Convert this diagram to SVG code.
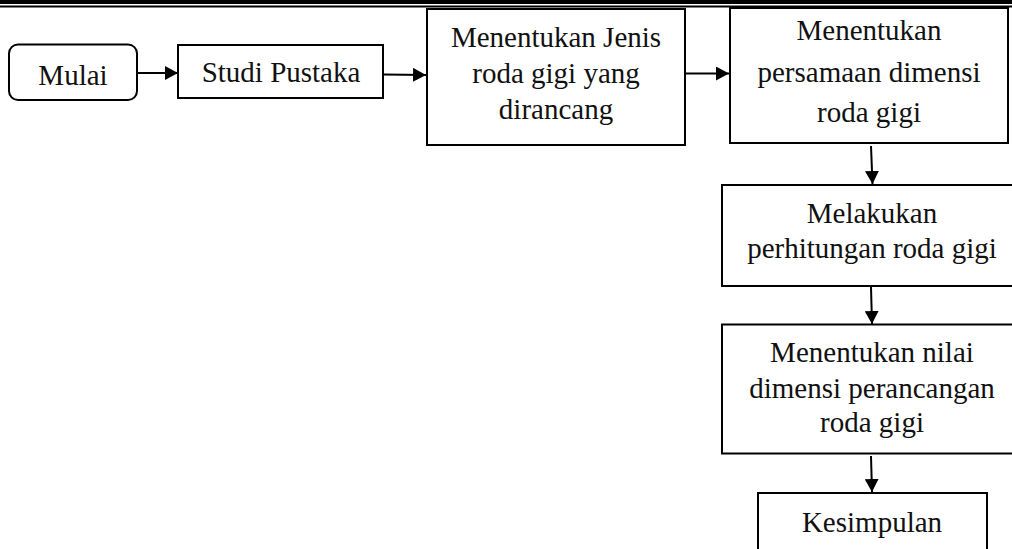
<svg xmlns="http://www.w3.org/2000/svg" width="1012" height="549" viewBox="0 0 1012 549">
<defs>
<style>
.box{fill:#fff;stroke:#000;stroke-width:2}
.t{font-family:"Liberation Serif","Times New Roman",serif;font-size:29px;fill:#111;text-anchor:middle}
.c{stroke:#000;stroke-width:2;fill:none}
</style>
<marker id="ah" markerWidth="13" markerHeight="14" refX="13" refY="7" orient="auto" markerUnits="userSpaceOnUse">
<path d="M0,0 L13,7 L0,14 Z" fill="#000"/>
</marker>
</defs>
<rect x="0" y="0" width="1012" height="549" fill="#fff"/>
<g id="header">
<rect x="0" y="0" width="1012" height="4" fill="#000"/>
<rect x="0" y="5.5" width="1012" height="2" fill="#000"/>
</g>
<g id="n1">
<rect class="box" x="9" y="44.5" width="128" height="55.5" rx="9"/>
<text class="t" x="73" y="85">Mulai</text>
</g>
<g id="n2">
<rect class="box" x="178" y="45" width="205" height="53"/>
<text class="t" x="281" y="82">Studi Pustaka</text>
</g>
<g id="n3">
<rect class="box" x="427" y="9" width="258" height="136"/>
<text class="t" x="556" y="46.5">Menentukan Jenis</text>
<text class="t" x="556" y="82.5">roda gigi yang</text>
<text class="t" x="556" y="118.5">dirancang</text>
</g>
<g id="n4">
<rect class="box" x="730" y="8" width="278" height="135"/>
<text class="t" x="869" y="40">Menentukan</text>
<text class="t" x="869" y="82">persamaan dimensi</text>
<text class="t" x="869" y="122">roda gigi</text>
</g>
<g id="n5">
<rect class="box" x="722" y="185" width="310" height="101"/>
<text class="t" x="872" y="223">Melakukan</text>
<text class="t" x="872" y="258">perhitungan roda gigi</text>
</g>
<g id="n6">
<rect class="box" x="722" y="324.5" width="310" height="129"/>
<text class="t" x="872" y="362">Menentukan nilai</text>
<text class="t" x="872" y="397.5">dimensi perancangan</text>
<text class="t" x="872" y="432">roda gigi</text>
</g>
<g id="n7">
<rect class="box" x="758" y="493" width="229" height="70"/>
<text class="t" x="872" y="532">Kesimpulan</text>
</g>
<g id="connectors">
<line class="c" x1="137" y1="73" x2="178" y2="73" marker-end="url(#ah)"/>
<line class="c" x1="383" y1="74.5" x2="426" y2="75" marker-end="url(#ah)"/>
<line class="c" x1="685" y1="73.5" x2="729" y2="73.5" marker-end="url(#ah)"/>
<line class="c" x1="871" y1="146" x2="872.5" y2="184" marker-end="url(#ah)"/>
<line class="c" x1="871" y1="287" x2="872" y2="324" marker-end="url(#ah)"/>
<line class="c" x1="871" y1="456" x2="872" y2="492" marker-end="url(#ah)"/>
</g>
</svg>
